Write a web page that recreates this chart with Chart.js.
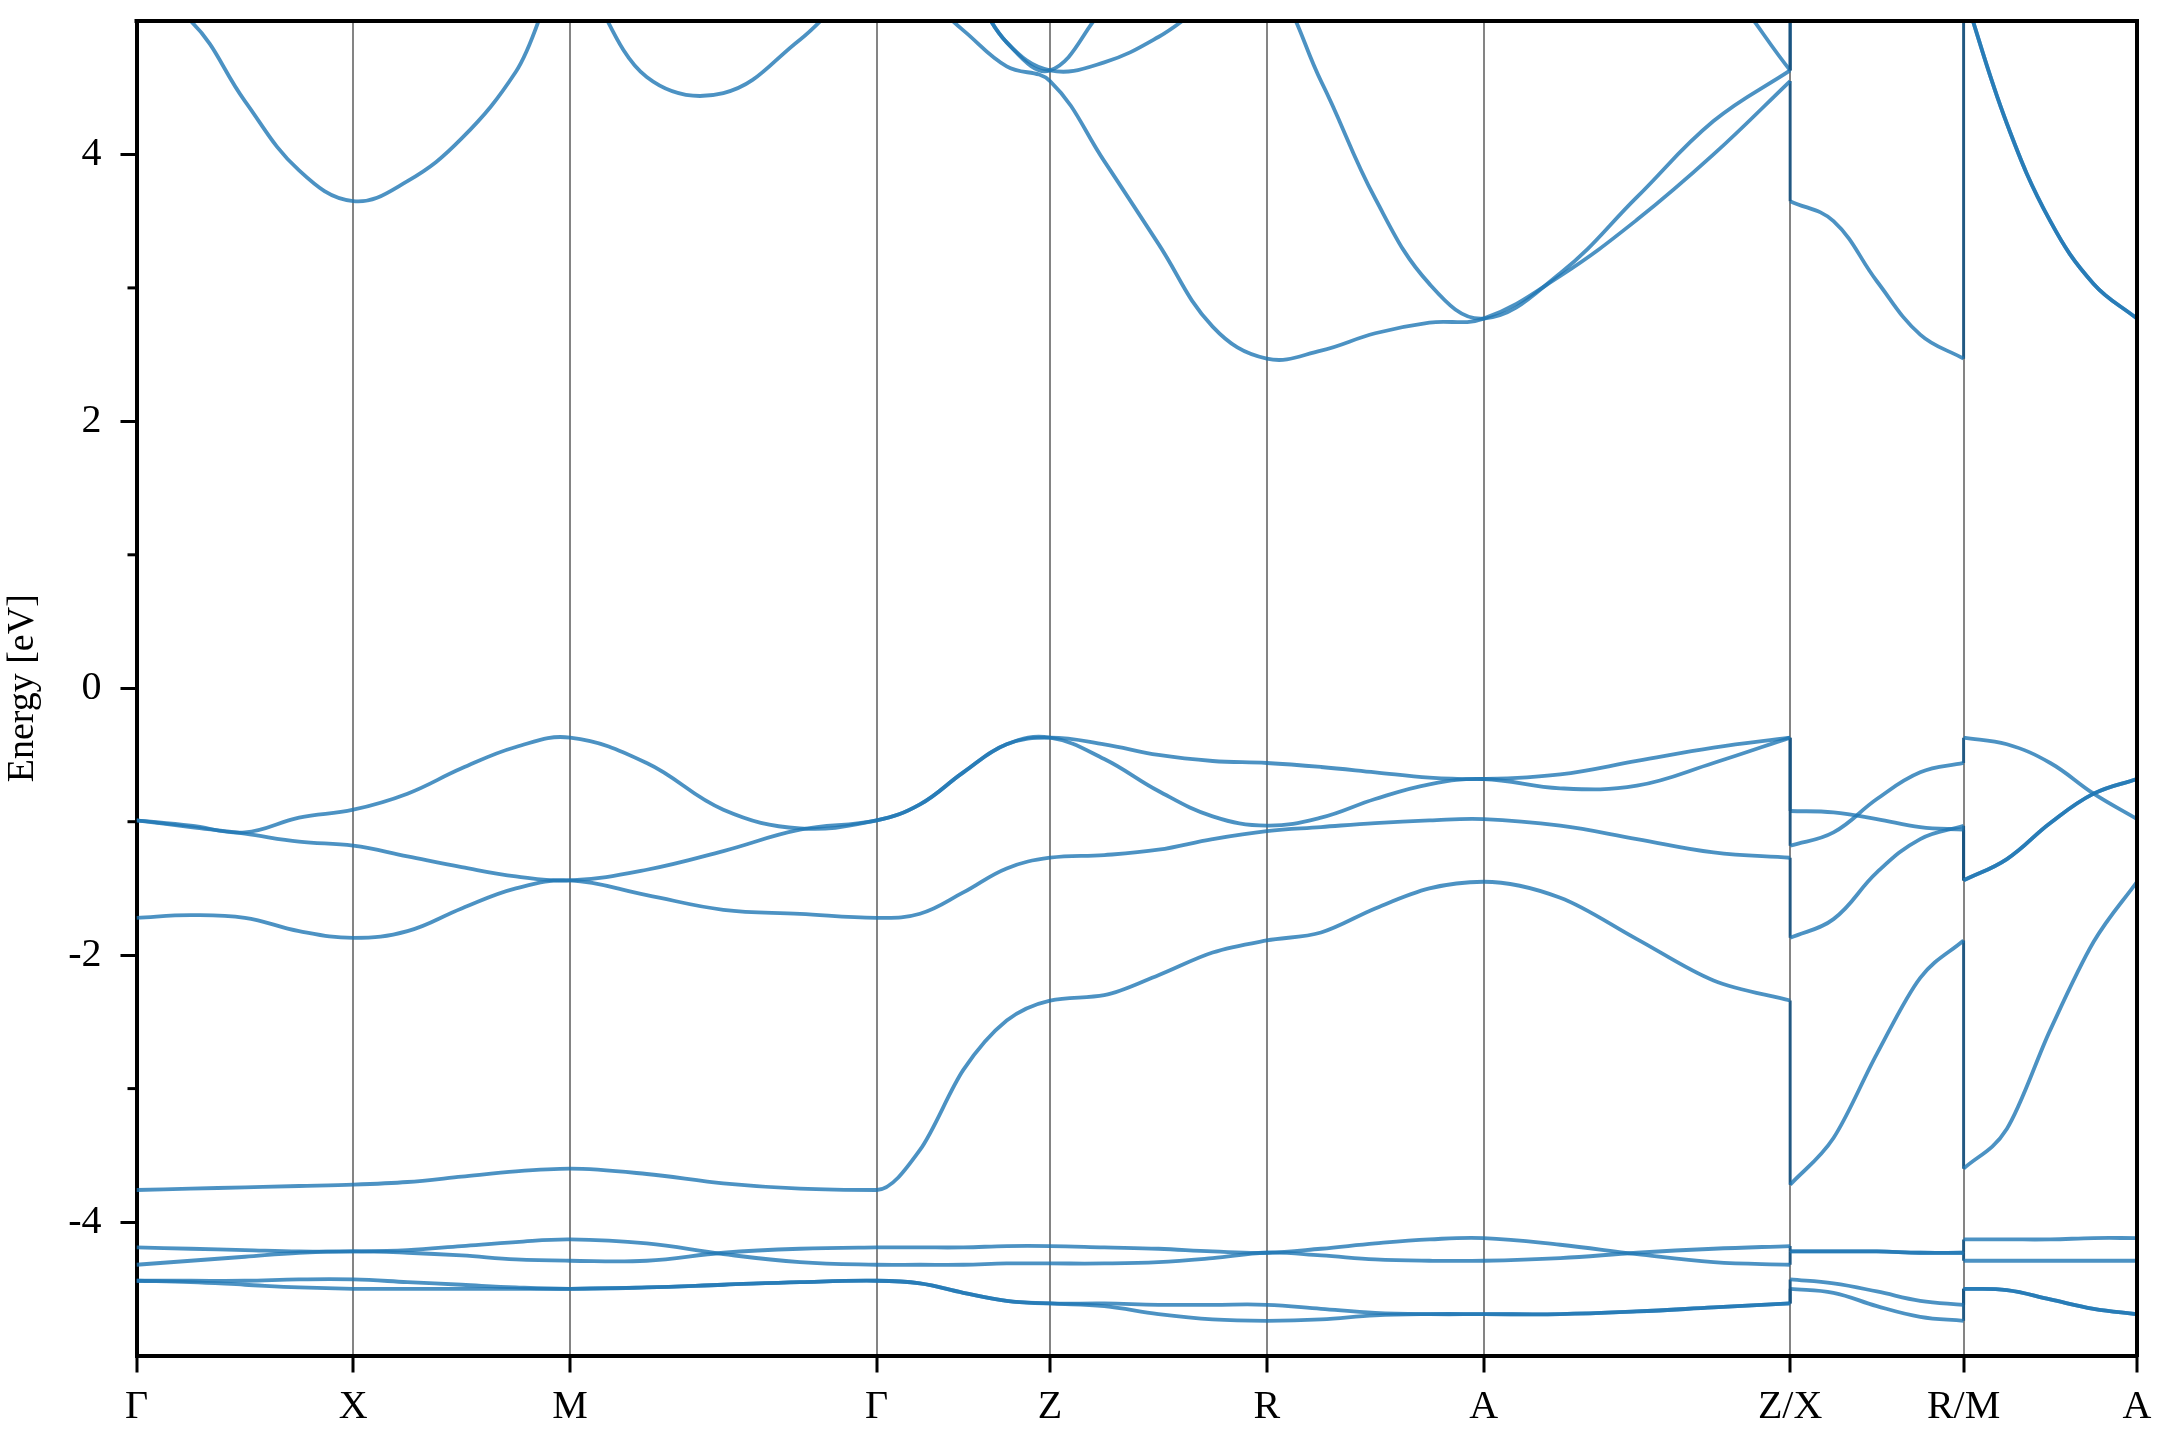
<!DOCTYPE html>
<html>
<head>
<meta charset="utf-8">
<script src="https://cdn.jsdelivr.net/npm/chart.js@4.4.1/dist/chart.umd.min.js"></script>
<style>
  html, body { margin: 0; padding: 0; background: #fff; }
</style>
</head>
<body>
<canvas id="chart" width="2160" height="1440"></canvas>
<script>
// k-path: high-symmetry points and their positions
const kLabels = ["Γ", "X", "M", "Γ", "Z", "R", "A", "Z/X", "R/M", "A"];
const kTicks = [0, 0.5, 1.0, 1.7071, 2.1071, 2.6071, 3.1071, 3.8142, 4.2142, 4.6142];
// sample points along the path (Z/X and R/M appear twice: jump in the path)
const kGrid = [0, 0.125, 0.25, 0.375, 0.5, 0.625, 0.75, 0.875,
  1.0, 1.1768, 1.3536, 1.5303, 1.7071, 1.8071, 1.9071, 2.0071,
  2.1071, 2.2321, 2.3571, 2.4821, 2.6071, 2.7321, 2.8571, 2.9821,
  3.1071, 3.2839, 3.4607, 3.6374, 3.8142,
  3.8142, 3.9142, 4.0142, 4.1142, 4.2142,
  4.2142, 4.3142, 4.4142, 4.5142, 4.6142];

// energies [eV]
const c1 = [5.2, 5.0, 4.40, 3.88, 3.65, 3.80, 4.12, 4.62, 5.35, 4.58, 4.46, 4.86, 5.35, 5.2, 4.93, 4.66,
  4.55, 3.95, 3.33, 2.71, 2.47, 2.53, 2.66, 2.74, 2.77, 3.09, 3.51, 4.0, 4.55,
  3.65, 3.50, 3.05, 2.65, 2.47, 5.22, 4.23, 3.50, 3.03, 2.77];
const c2 = [5.7, 5.7, 5.6, 5.6, 5.6, 5.6, 5.6, 5.6, 5.6, 5.6, 5.6, 5.6, 5.6, 5.45, 5.3, 4.84,
  4.63, 4.69, 4.88, 5.15, 5.3, 4.55, 3.67, 3.03, 2.77, 3.11, 3.68, 4.25, 4.63,
  5.6, 5.6, 5.6, 5.6, 5.6, 5.22, 4.23, 3.50, 3.03, 2.77];
const c3 = [6, 6, 6, 6, 6, 6, 6, 6, 6, 6, 6, 6, 5.6, 5.45, 5.3, 4.84,
  4.63, 5.1, 5.5, 5.9, 6, 6, 6, 6, 6, 6, 5.7, 5.35, 4.63,
  6, 6, 6, 6, 6, 6, 6, 6, 6, 6];
const v1 = [-0.99, -1.03, -1.08, -0.97, -0.91, -0.79, -0.60, -0.44, -0.37, -0.56, -0.91, -1.05, -0.99, -0.87, -0.63, -0.42,
  -0.37, -0.42, -0.50, -0.545, -0.56, -0.59, -0.63, -0.67, -0.68, -0.645, -0.545, -0.445, -0.37,
  -1.18, -1.08, -0.83, -0.63, -0.56, -0.37, -0.42, -0.56, -0.79, -0.98];
const v2 = [-0.99, -1.04, -1.09, -1.15, -1.18, -1.26, -1.34, -1.41, -1.44, -1.36, -1.22, -1.06, -0.99, -0.87, -0.63, -0.42,
  -0.37, -0.53, -0.77, -0.96, -1.03, -0.97, -0.83, -0.72, -0.68, -0.75, -0.73, -0.56, -0.37,
  -0.92, -0.93, -0.98, -1.04, -1.06, -1.44, -1.28, -1.01, -0.79, -0.68];
const v3 = [-1.72, -1.70, -1.72, -1.82, -1.87, -1.82, -1.65, -1.50, -1.44, -1.55, -1.66, -1.69, -1.72, -1.69, -1.53, -1.35,
  -1.27, -1.25, -1.21, -1.13, -1.07, -1.04, -1.01, -0.99, -0.98, -1.03, -1.13, -1.23, -1.27,
  -1.87, -1.73, -1.38, -1.13, -1.03, -1.44, -1.28, -1.01, -0.79, -0.68];
const v4 = [-3.76, -3.75, -3.74, -3.73, -3.72, -3.70, -3.66, -3.62, -3.60, -3.64, -3.71, -3.75, -3.76, -3.46, -2.86, -2.49,
  -2.34, -2.30, -2.15, -1.98, -1.89, -1.83, -1.65, -1.50, -1.45, -1.57, -1.88, -2.19, -2.34,
  -3.72, -3.37, -2.74, -2.17, -1.89, -3.60, -3.30, -2.56, -1.90, -1.45];
const b1 = [-4.19, -4.20, -4.21, -4.22, -4.22, -4.21, -4.18, -4.15, -4.13, -4.16, -4.24, -4.30, -4.32, -4.32, -4.32, -4.31,
  -4.31, -4.31, -4.30, -4.27, -4.23, -4.25, -4.28, -4.29, -4.29, -4.27, -4.23, -4.20, -4.18,
  -4.22, -4.22, -4.22, -4.23, -4.23, -4.13, -4.13, -4.13, -4.12, -4.12];
const b2 = [-4.32, -4.29, -4.26, -4.23, -4.22, -4.23, -4.25, -4.28, -4.29, -4.29, -4.23, -4.20, -4.19, -4.19, -4.19, -4.18,
  -4.18, -4.19, -4.20, -4.22, -4.23, -4.20, -4.16, -4.13, -4.12, -4.17, -4.24, -4.30, -4.32,
  -4.22, -4.22, -4.22, -4.23, -4.23, -4.29, -4.29, -4.29, -4.29, -4.29];
const b3 = [-4.44, -4.44, -4.44, -4.43, -4.43, -4.45, -4.47, -4.49, -4.50, -4.49, -4.47, -4.45, -4.44, -4.46, -4.53, -4.59,
  -4.61, -4.61, -4.62, -4.62, -4.62, -4.65, -4.68, -4.69, -4.69, -4.69, -4.67, -4.64, -4.61,
  -4.43, -4.46, -4.52, -4.59, -4.62, -4.50, -4.51, -4.58, -4.65, -4.69];
const b4 = [-4.44, -4.45, -4.47, -4.49, -4.50, -4.50, -4.50, -4.50, -4.50, -4.49, -4.47, -4.45, -4.44, -4.46, -4.53, -4.59,
  -4.61, -4.63, -4.69, -4.73, -4.74, -4.73, -4.70, -4.69, -4.69, -4.69, -4.67, -4.64, -4.61,
  -4.50, -4.53, -4.63, -4.71, -4.74, -4.50, -4.51, -4.58, -4.65, -4.69];

const majorY = [-4, -2, 0, 2, 4];
const minorY = [-3, -1, 1, 3];

const bands = [c1, c2, c3, v1, v2, v3, v4, b1, b2, b3, b4];
// continuous stretches of the path and the jumps at Z/X and R/M
const pieces = [[0, 28], [29, 33], [34, 38]];
const jumps = [[28, 29], [33, 34]];

// top/right spines and minor ticks on energy axis
const frame = {
  id: 'frame',
  afterDraw(chart) {
    const ctx = chart.ctx;
    const a = chart.chartArea;
    ctx.save();
    ctx.strokeStyle = '#000';
    ctx.lineWidth = 4;
    ctx.lineCap = 'square';
    ctx.beginPath();
    ctx.moveTo(a.left, a.top);
    ctx.lineTo(a.right, a.top);
    ctx.lineTo(a.right, a.bottom);
    ctx.stroke();
    ctx.lineCap = 'butt';
    ctx.lineWidth = 3;
    const ys = chart.scales.y;
    minorY.forEach(v => {
      const py = ys.getPixelForValue(v);
      ctx.beginPath();
      ctx.moveTo(a.left - 9, py);
      ctx.lineTo(a.left, py);
      ctx.stroke();
    });
    ctx.restore();
  }
};

function slicePts(b, i0, i1) {
  const pts = [];
  for (let i = i0; i <= i1; i++) pts.push({ x: kGrid[i], y: b[i] });
  return pts;
}

const datasets = [];
bands.forEach(b => {
  pieces.forEach(([i0, i1]) => datasets.push({
    data: slicePts(b, i0, i1),
    borderColor: 'rgba(31,119,180,0.8)',
    borderWidth: 3.8,
    pointRadius: 0,
    fill: false,
    tension: 0.4,
    // the -3.7 band turns sharply at Γ, keep it from overshooting
    cubicInterpolationMode: b === v4 ? 'monotone' : 'default'
  }));
  jumps.forEach(([i0, i1]) => datasets.push({
    data: slicePts(b, i0, i1),
    borderColor: 'rgba(24,84,130,0.9)',
    borderWidth: 3,
    pointRadius: 0,
    fill: false,
    tension: 0
  }));
});

Chart.defaults.font.family = "'Liberation Serif', 'Times New Roman', serif";
Chart.defaults.color = '#000';

let bandChart = new Chart(document.getElementById('chart').getContext('2d'), {
  type: 'line',
  data: { datasets: datasets },
  options: {
    responsive: false,
    animation: false,
    devicePixelRatio: 1,
    layout: { padding: { top: 21, right: 23, left: 0, bottom: 0 } },
    plugins: { legend: { display: false }, tooltip: { enabled: false } },
    scales: {
      x: {
        type: 'linear',
        min: 0,
        max: 4.6142,
        afterBuildTicks: s => { s.ticks = kTicks.map(v => ({ value: v })); },
        afterFit: s => { s.height = 84.5; s.paddingLeft = 0; s.paddingRight = 0; },
        ticks: {
          autoSkip: false,
          maxRotation: 0,
          padding: 11,
          font: { size: 40 },
          callback: (v, i) => kLabels[i]
        },
        grid: {
          color: 'rgba(110,110,110,0.85)',
          lineWidth: 2,
          tickColor: '#000',
          tickWidth: 3,
          tickLength: 17
        },
        border: { color: '#000', width: 4 }
      },
      y: {
        min: -5,
        max: 5,
        afterBuildTicks: s => { s.ticks = majorY.map(v => ({ value: v })); },
        afterFit: s => { s.width = 136.5; s.paddingTop = 0; s.paddingBottom = 0; },
        ticks: { padding: 19, font: { size: 40 } },
        grid: { drawOnChartArea: false, tickLength: 16, tickWidth: 3, tickColor: '#000' },
        border: { color: '#000', width: 4 },
        title: { display: true, text: 'Energy [eV]', font: { size: 38 }, padding: 0 }
      }
    }
  },
  plugins: [frame]
});
</script>
</body>
</html>
